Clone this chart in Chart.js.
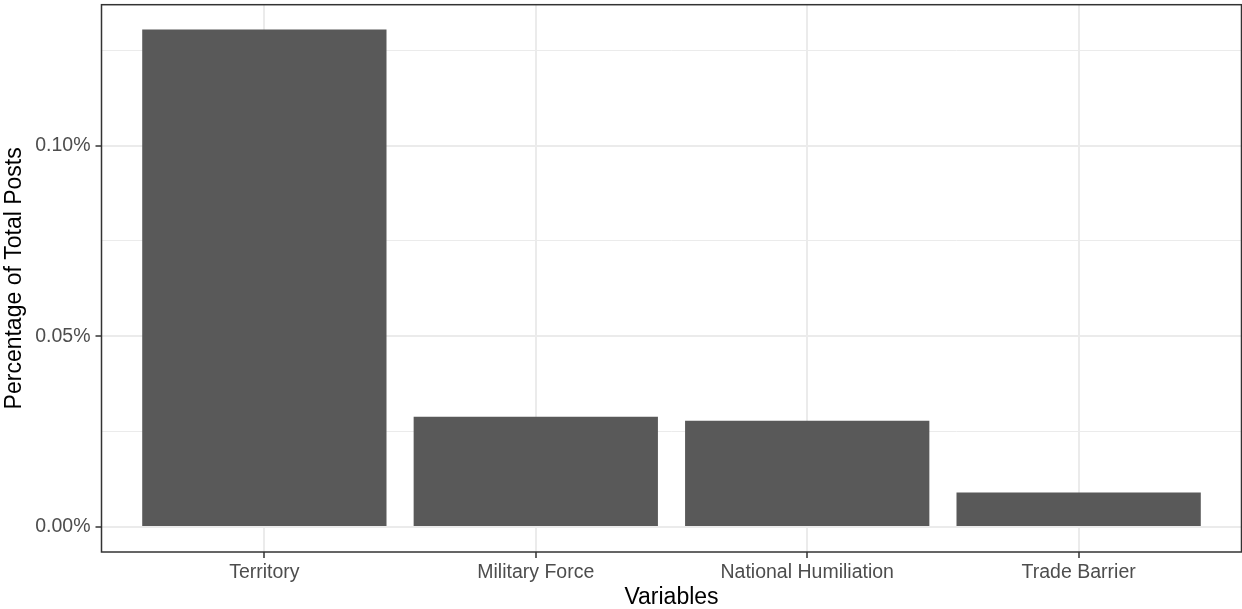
<!DOCTYPE html>
<html>
<head>
<meta charset="utf-8">
<script src="https://cdn.jsdelivr.net/npm/chart.js@4"></script>
<style>
  html, body { margin: 0; padding: 0; background: #fff; }
</style>
</head>
<body>
<canvas id="barChart" width="1242" height="609"></canvas>
<script>
// values (percent of total posts)
const categories = ["Territory", "Military Force", "National Humiliation", "Trade Barrier"];
const shares = [0.1304, 0.0289, 0.0279, 0.0091];
const yMajorTicks = [0, 0.05, 0.10];
const yMinorTicks = [0.025, 0.075, 0.125];

const FONT = "'Liberation Sans', Arial, Helvetica, sans-serif";
const maxShare = Math.max(...shares);

function isMajor(v) {
  return yMajorTicks.some((m) => Math.abs(m - v) < 1e-9);
}

// ggplot-style panel border drawn on top of everything
const panelBorder = {
  id: "panelBorder",
  afterDraw(chart) {
    const { ctx, chartArea: a } = chart;
    ctx.save();
    ctx.strokeStyle = "#333333";
    ctx.lineWidth = 1.5;
    ctx.strokeRect(a.left, a.top, a.right - a.left, a.bottom - a.top);
    ctx.restore();
  },
};

const ctx = document.getElementById("barChart").getContext("2d");

new Chart(ctx, {
  type: "bar",
  data: {
    datasets: [
      {
        label: "share",
        data: shares.map((v, i) => ({ x: i + 1, y: v })),
        backgroundColor: "#595959",
        borderWidth: 0,
        barPercentage: 0.9,
        categoryPercentage: 1,
      },
    ],
  },
  options: {
    responsive: false,
    animation: false,
    devicePixelRatio: 1,
    layout: { padding: { top: 4.7, right: 0.5, left: 0, bottom: 0 } },
    plugins: {
      legend: { display: false },
      tooltip: { enabled: false },
    },
    scales: {
      x: {
        type: "linear",
        offset: false,
        min: 0.4,
        max: categories.length + 0.6,
        afterBuildTicks: (scale) => {
          scale.ticks = categories.map((c, i) => ({ value: i + 1 }));
        },
        afterFit: (scale) => {
          scale.height = 57;
          scale.paddingLeft = 0;
          scale.paddingRight = 0;
        },
        grid: {
          offset: false,
          color: "#EBEBEB",
          lineWidth: 2,
          drawTicks: true,
          tickLength: 6,
          tickColor: "#333333",
          tickWidth: 1.5,
        },
        border: { display: false },
        ticks: {
          autoSkip: false,
          maxRotation: 0,
          padding: 3,
          color: "#4D4D4D",
          font: { family: FONT, size: 19.5 },
          callback: (v) => categories[v - 1] || "",
        },
        title: {
          display: true,
          text: "Variables",
          color: "#000000",
          font: { family: FONT, size: 23, lineHeight: 1.0 },
          padding: { top: 0, bottom: 0 },
        },
      },
      y: {
        min: -0.05 * maxShare,
        max: 1.05 * maxShare,
        afterBuildTicks: (scale) => {
          scale.ticks = [...yMajorTicks, ...yMinorTicks]
            .sort((a, b) => a - b)
            .map((v) => ({ value: v }));
        },
        afterFit: (scale) => {
          scale.width = 101.5;
          scale.paddingTop = 0;
          scale.paddingBottom = 0;
        },
        grid: {
          color: "#EBEBEB",
          lineWidth: (c) => (c.tick && isMajor(c.tick.value) ? 2 : 1),
          drawTicks: true,
          tickLength: 6,
          tickColor: (c) => (c.tick && isMajor(c.tick.value) ? "#333333" : "rgba(0,0,0,0)"),
          tickWidth: 1.5,
        },
        border: { display: false },
        ticks: {
          padding: 5,
          color: "#4D4D4D",
          font: { family: FONT, size: 19.5 },
          callback: (v) => (isMajor(v) ? v.toFixed(2) + "%" : ""),
        },
        title: {
          display: true,
          text: "Percentage of Total Posts",
          color: "#000000",
          font: { family: FONT, size: 23 },
          padding: { top: 1, bottom: 0 },
        },
      },
    },
  },
  plugins: [panelBorder],
});
</script>
</body>
</html>
